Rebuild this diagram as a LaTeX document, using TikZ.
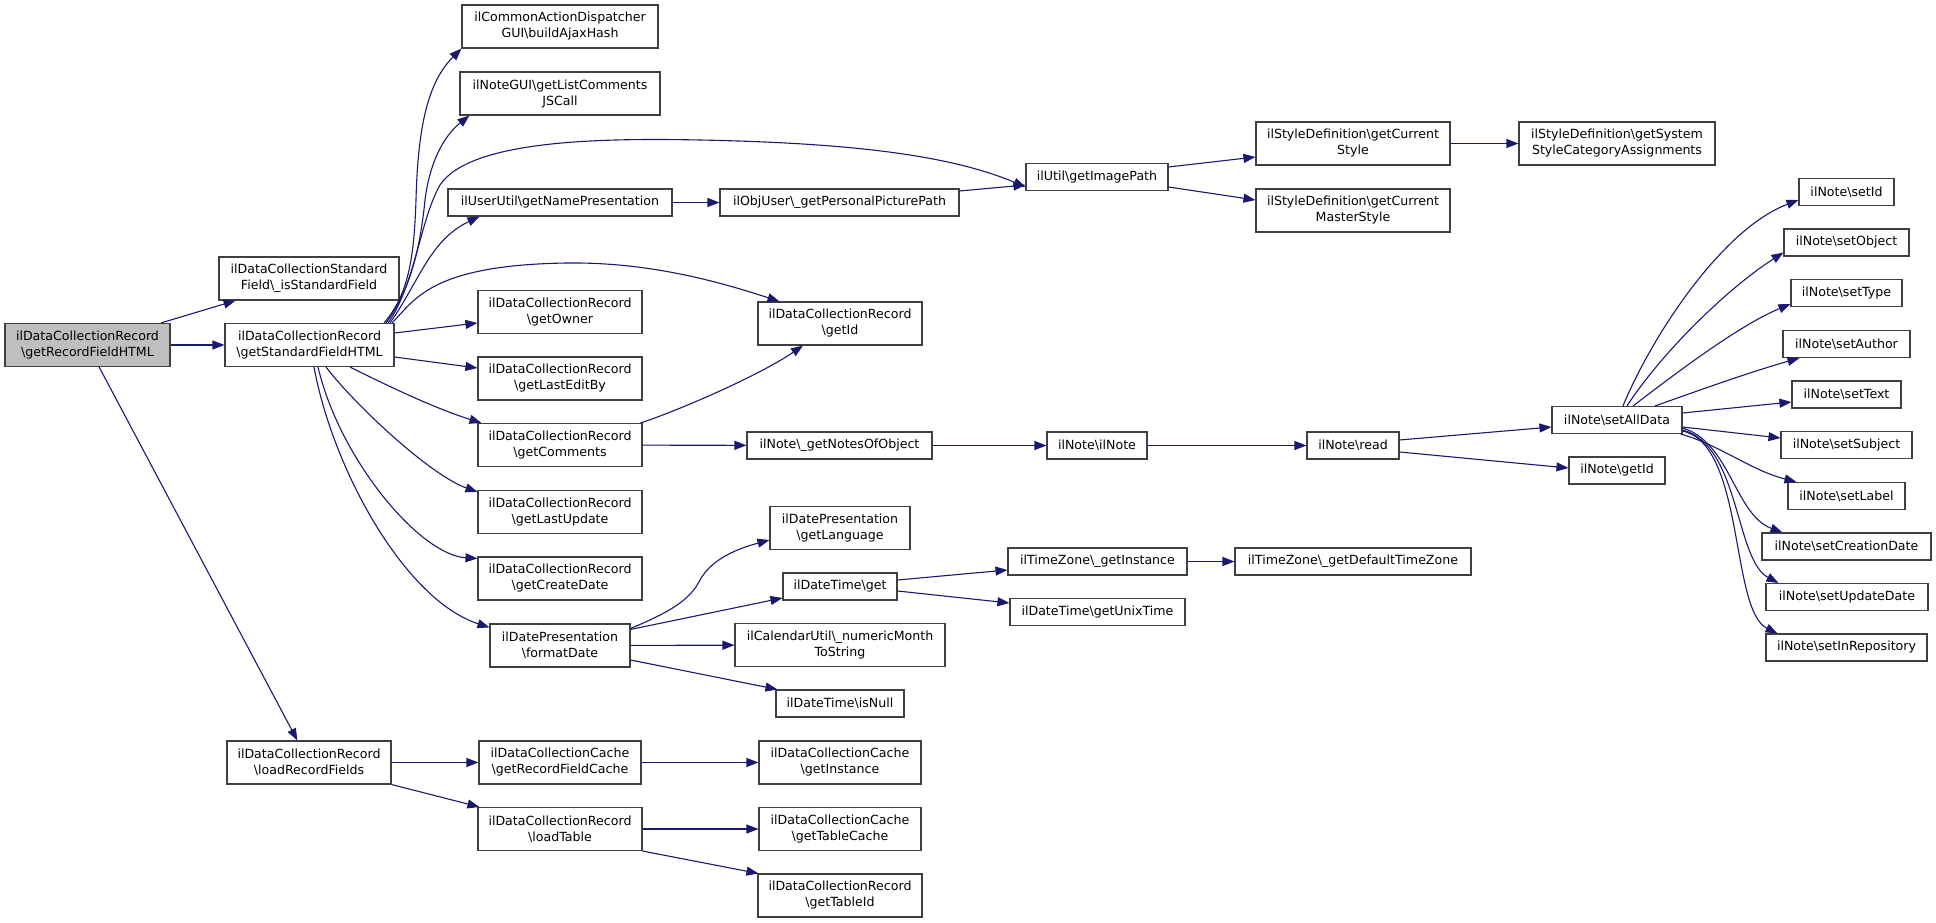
\documentclass[tikz,border=0pt]{standalone}
\usepackage{fontspec}
\setmainfont{DejaVu Sans}
\usetikzlibrary{arrows.meta}
\definecolor{edgeblue}{HTML}{191970}
\definecolor{nodeborder}{HTML}{404040}
\definecolor{maingray}{HTML}{BFBFBF}
\newcommand{\BSL}{\textbackslash}
\begin{document}
\begin{tikzpicture}[x=1pt,y=-1pt,
  box/.style={draw=nodeborder, line width=1.1pt, fill=white, inner sep=0pt, align=center, font=\fontsize{12.6}{16}\selectfont},
  two/.style={box, minimum height=43pt},
  one/.style={box, minimum height=27pt},
  e/.style={draw=edgeblue, line width=1.1pt, -{Triangle[length=12pt,width=9pt]}},
]
\fill[white] (0,0) rectangle (1936,923);
\useasboundingbox (0,0) rectangle (1936,923);

% column 0-1
\node[two, minimum width=165pt, fill=maingray] (main) at (87.5,345) {ilDataCollectionRecord\\\BSL getRecordFieldHTML};
\node[two, minimum width=180pt] (std) at (309,278.5) {ilDataCollectionStandard\\Field\BSL\_isStandardField};
\node[two, minimum width=169pt] (sfh) at (309.5,345) {ilDataCollectionRecord\\\BSL getStandardFieldHTML};
\node[two, minimum width=164pt] (lrf) at (309,762.5) {ilDataCollectionRecord\\\BSL loadRecordFields};

% column 2
\node[two, minimum width=196pt] (cad) at (560,26.5) {ilCommonActionDispatcher\\GUI\BSL buildAjaxHash};
\node[two, minimum width=200pt] (ngui) at (560,93.5) {ilNoteGUI\BSL getListComments\\JSCall};
\node[one, minimum width=224pt] (uu) at (560,202.5) {ilUserUtil\BSL getNamePresentation};
\node[two, minimum width=164pt] (owner) at (560,312) {ilDataCollectionRecord\\\BSL getOwner};
\node[two, minimum width=164pt] (lastedit) at (560,378.5) {ilDataCollectionRecord\\\BSL getLastEditBy};
\node[two, minimum width=164pt] (comments) at (560,445) {ilDataCollectionRecord\\\BSL getComments};
\node[two, minimum width=164pt] (lastupdate) at (560,512) {ilDataCollectionRecord\\\BSL getLastUpdate};
\node[two, minimum width=164pt] (createdate) at (560,578.5) {ilDataCollectionRecord\\\BSL getCreateDate};
\node[two, minimum width=140pt] (fd) at (560,645.5) {ilDatePresentation\\\BSL formatDate};
\node[two, minimum width=162pt] (grfc) at (560,762.5) {ilDataCollectionCache\\\BSL getRecordFieldCache};
\node[two, minimum width=164pt] (loadtable) at (560,829) {ilDataCollectionRecord\\\BSL loadTable};

% column 3
\node[one, minimum width=239pt] (objuser) at (839.5,202.5) {ilObjUser\BSL\_getPersonalPicturePath};
\node[two, minimum width=164pt] (dcrid) at (840,323.5) {ilDataCollectionRecord\\\BSL getId};
\node[one, minimum width=185pt] (notes) at (839.5,445.5) {ilNote\BSL\_getNotesOfObject};
\node[two, minimum width=140pt] (lang) at (840,528) {ilDatePresentation\\\BSL getLanguage};
\node[one, minimum width=114pt] (dtget) at (840,586.5) {ilDateTime\BSL get};
\node[two, minimum width=210pt] (month) at (840,645) {ilCalendarUtil\BSL\_numericMonth\\ToString};
\node[one, minimum width=128pt] (isnull) at (840,703.5) {ilDateTime\BSL isNull};
\node[two, minimum width=162pt] (dccinst) at (840,762.5) {ilDataCollectionCache\\\BSL getInstance};
\node[two, minimum width=162pt] (tablecache) at (840,829) {ilDataCollectionCache\\\BSL getTableCache};
\node[two, minimum width=164pt] (tableid) at (840,895.5) {ilDataCollectionRecord\\\BSL getTableId};

% column 4
\node[one, minimum width=142pt] (imgpath) at (1097,177) {ilUtil\BSL getImagePath};
\node[one, minimum width=100pt] (ilnote) at (1097,445.5) {ilNote\BSL ilNote};
\node[one, minimum width=179pt] (tz) at (1097.5,561.5) {ilTimeZone\BSL\_getInstance};
\node[one, minimum width=175pt] (unix) at (1097.5,612) {ilDateTime\BSL getUnixTime};

% column 5
\node[two, minimum width=194pt] (style) at (1353,143.5) {ilStyleDefinition\BSL getCurrent\\Style};
\node[two, minimum width=194pt] (master) at (1353,210.5) {ilStyleDefinition\BSL getCurrent\\MasterStyle};
\node[one, minimum width=92pt] (read) at (1353,445.5) {ilNote\BSL read};
\node[one, minimum width=236pt] (deftz) at (1353,561.5) {ilTimeZone\BSL\_getDefaultTimeZone};

% column 6
\node[two, minimum width=196pt] (system) at (1617,143.5) {ilStyleDefinition\BSL getSystem\\StyleCategoryAssignments};
\node[one, minimum width=130pt] (sad) at (1617,420) {ilNote\BSL setAllData};
\node[one, minimum width=96pt] (noteid) at (1617,470.5) {ilNote\BSL getId};

% column 7
\node[one, minimum width=95pt] (setid) at (1846.5,192) {ilNote\BSL setId};
\node[one, minimum width=125pt] (setobject) at (1846.5,242.5) {ilNote\BSL setObject};
\node[one, minimum width=111pt] (settype) at (1846.5,293) {ilNote\BSL setType};
\node[one, minimum width=127pt] (setauthor) at (1846.5,344) {ilNote\BSL setAuthor};
\node[one, minimum width=109pt] (settext) at (1846.5,394.5) {ilNote\BSL setText};
\node[one, minimum width=131pt] (setsubject) at (1846.5,445) {ilNote\BSL setSubject};
\node[one, minimum width=117pt] (setlabel) at (1846.5,496) {ilNote\BSL setLabel};
\node[one, minimum width=169pt] (setcreation) at (1846.5,546.5) {ilNote\BSL setCreationDate};
\node[one, minimum width=162pt] (setupdate) at (1847,597) {ilNote\BSL setUpdateDate};
\node[one, minimum width=161pt] (setrepo) at (1846.5,647.5) {ilNote\BSL setInRepository};

% ---- edges ----
\draw[e] (main) -- (std);
\draw[e] (main) -- (sfh);
\draw[e] (main) -- (lrf);

\draw[e] ([xshift=74.5pt]sfh.north) .. controls (408,295) and (414,260) .. (416,200)
   .. controls (418,120) and (430,80) .. (cad.south west);
\draw[e] ([xshift=76.5pt]sfh.north) .. controls (410,290) and (420,250) .. (425,200)
   .. controls (430,160) and (445,135) .. ([xshift=10pt]ngui.south west);
\draw[e] ([xshift=78.5pt]sfh.north) .. controls (415,285) and (420,220) .. (440,185)
   .. controls (470,140) and (600,138) .. (700,140)
   .. controls (850,143) and (950,155) .. ([yshift=-10pt]imgpath.west);
\draw[e] ([xshift=80.5pt]sfh.north) .. controls (420,280) and (430,240) .. ([xshift=32pt]uu.south west);
\draw[e] ([xshift=82.5pt]sfh.north) .. controls (415,300) and (430,265) .. (567,263)
   .. controls (650,262) and (720,282) .. ([xshift=22pt]dcrid.north west);
\draw[e] ([yshift=12pt]sfh.east) -- ([yshift=-11pt]owner.west);
\draw[e] ([yshift=-12pt]sfh.east) -- ([yshift=10.5pt]lastedit.west);
\draw[e] ([xshift=40.5pt]sfh.south) .. controls (400,392) and (440,410) .. ([xshift=4pt]comments.north west);
\draw[e] ([xshift=16.5pt]sfh.south) .. controls (355,405) and (430,475) .. ([yshift=-2pt]lastupdate.north west);
\draw[e] ([xshift=8.5pt]sfh.south) .. controls (340,460) and (420,555) .. ([yshift=-2pt]createdate.north west);
\draw[e] ([xshift=4.5pt]sfh.south) .. controls (333,470) and (405,600) .. ([yshift=-4pt]fd.north west);

\draw[e] ([xshift=-2pt]comments.north east) .. controls (680,410) and (760,375) .. ([xshift=-37pt]dcrid.south);
\draw[e] (comments) -- (notes);
\draw[e] (uu) -- (objuser);
\draw[e] ([yshift=11.5pt]objuser.east) -- ([yshift=-8pt]imgpath.west);
\draw[e] ([yshift=10pt]imgpath.east) -- ([yshift=-13.5pt]style.west);
\draw[e] ([yshift=-10pt]imgpath.east) -- ([yshift=10.5pt]master.west);
\draw[e] (style) -- (system);
\draw[e] (notes) -- (ilnote);
\draw[e] (ilnote) -- (read);
\draw[e] ([yshift=5.5pt]read.east) -- ([yshift=-7pt]sad.west);
\draw[e] ([yshift=-6.5pt]read.east) -- ([yshift=2.5pt]noteid.west);

\draw[e] ([xshift=6pt]sad.north) .. controls (1650,340) and (1720,230) .. ([yshift=-8pt]setid.west);
\draw[e] ([xshift=10pt]sad.north) .. controls (1660,355) and (1725,290) .. ([yshift=-10pt]setobject.west);
\draw[e] ([xshift=16pt]sad.north) .. controls (1680,370) and (1740,325) .. ([yshift=-11pt]settype.west);
\draw[e] ([xshift=38pt]sad.north) .. controls (1700,390) and (1750,372) .. ([xshift=17pt]setauthor.south west);
\draw[e] ([yshift=7pt]sad.east) -- ([yshift=-7.5pt]settext.west);
\draw[e] ([yshift=-7pt]sad.east) -- ([yshift=7pt]setsubject.west);
\draw[e] ([xshift=-2pt]sad.south east) .. controls (1720,445) and (1750,470) .. ([xshift=9pt]setlabel.north west);
\draw[e] ([yshift=-8pt]sad.east) .. controls (1730,442) and (1735,515) .. ([xshift=21pt]setcreation.north west);
\draw[e] ([yshift=-10pt]sad.east) .. controls (1740,445) and (1735,560) .. ([xshift=13pt]setupdate.north west);
\draw[e] ([yshift=-11pt]sad.east) .. controls (1745,445) and (1730,610) .. ([xshift=12pt]setrepo.north west);

\draw[e] ([yshift=-5pt]fd.north east) .. controls (670,612) and (690,600) .. (700,580)
   .. controls (712,558) and (740,548) .. ([yshift=-12pt]lang.west);
\draw[e] ([yshift=-6pt]fd.north east) -- ([yshift=-11.5pt]dtget.west);
\draw[e] (fd) -- (month);
\draw[e] ([yshift=-14.5pt]fd.east) -- ([xshift=2pt]isnull.north west);
\draw[e] ([yshift=6.5pt]dtget.east) -- ([yshift=-8.5pt]tz.west);
\draw[e] ([yshift=-4.5pt]dtget.east) -- ([yshift=9pt]unix.west);
\draw[e] (tz) -- (deftz);

\draw[e] (lrf) -- (grfc);
\draw[e] (lrf.south east) -- ([xshift=2pt]loadtable.north west);
\draw[e] (grfc) -- (dccinst);
\draw[e] (loadtable) -- (tablecache);
\draw[e] (loadtable.south east) -- ([xshift=1pt]tableid.north west);
\end{tikzpicture}
\end{document}
